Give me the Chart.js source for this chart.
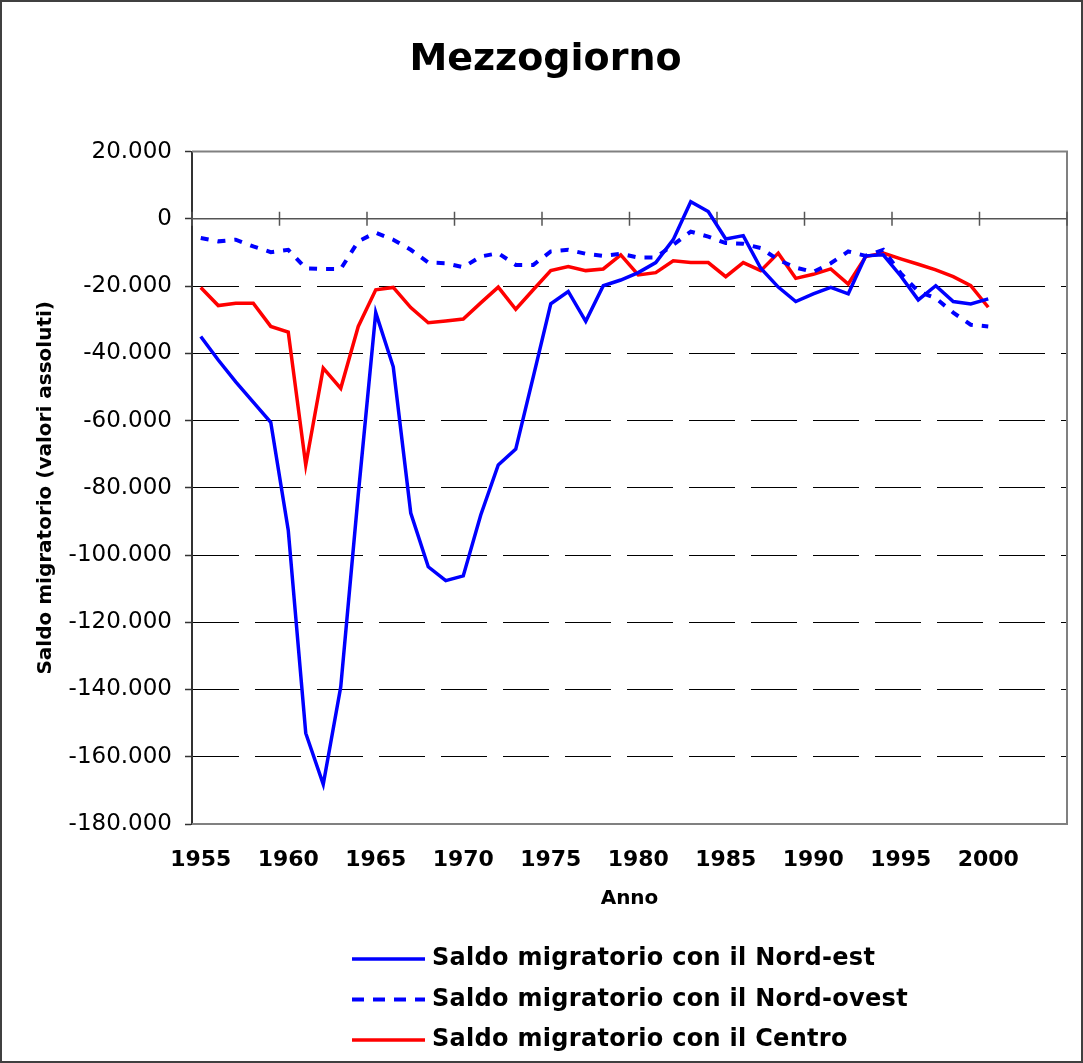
<!DOCTYPE html>
<html>
<head>
<meta charset="utf-8">
<title>Mezzogiorno</title>
<script src="https://cdn.jsdelivr.net/npm/chart.js@4/dist/chart.umd.min.js"></script>
<style>
    html, body { margin: 0; padding: 0; background: #fff; }
    canvas { display: block; }
</style>
</head>
<body>
<canvas id="saldoChart" width="1083" height="1063"></canvas>
<script>
// anni della serie (l'asse prosegue fino al 2004 senza dati)
var anni = [1955, 1956, 1957, 1958, 1959, 1960, 1961, 1962, 1963, 1964,
            1965, 1966, 1967, 1968, 1969, 1970, 1971, 1972, 1973, 1974,
            1975, 1976, 1977, 1978, 1979, 1980, 1981, 1982, 1983, 1984,
            1985, 1986, 1987, 1988, 1989, 1990, 1991, 1992, 1993, 1994,
            1995, 1996, 1997, 1998, 1999, 2000, 2001, 2002, 2003, 2004];
var anniEtichetta = [1955, 1960, 1965, 1970, 1975, 1980, 1985, 1990, 1995, 2000];

var saldoNordEst = [-35000, -42000, -48500, -54500, -60500, -92600, -153000, -168200, -139200, -82000,
                    -27900, -44000, -87500, -103500, -107600, -106200, -88100, -73200, -68500, -47000,
                    -25300, -21600, -30500, -19900, -18200, -16000, -13000, -6200, 5100, 2200,
                    -6000, -5000, -14700, -20300, -24600, -22300, -20400, -22300, -11000, -10700,
                    -17000, -24100, -19900, -24600, -25300, -23800];
var saldoNordOvest = [-5700, -6700, -6200, -8200, -9900, -9200, -14700, -14900, -14900, -6700,
                      -4100, -6200, -9200, -13000, -13200, -14400, -11200, -10200, -13700, -13700,
                      -9700, -9200, -10400, -11000, -10400, -11500, -11500, -7700, -3800, -5300,
                      -7200, -7400, -8700, -12200, -14500, -15800, -13200, -9700, -11000, -9200,
                      -16200, -21600, -23600, -27900, -31500, -32000];
var saldoCentro = [-20400, -25800, -25100, -25100, -32000, -33700, -73200, -44400, -50400, -32000,
                   -21100, -20400, -26400, -30900, -30400, -29800, -25000, -20300, -26900, -21100,
                   -15400, -14200, -15400, -14900, -10700, -16700, -16000, -12500, -13000, -13000,
                   -17200, -13000, -15400, -10200, -17700, -16500, -14900, -19400, -11200, -10200,
                   -11900, -13500, -15200, -17200, -19900, -26300];

var asseMin = -180000;
var asseMax = 20000;
var asseStep = 20000;

(function () {
    var FONT = "'DejaVu Sans', Verdana, sans-serif";

    function formatta(v) {
        var s = String(Math.abs(v)).replace(/\B(?=(\d{3})+(?!\d))/g, '.');
        return (v < 0 ? '-' : '') + s;
    }

    // bordo dell'area del grafico, linea dello zero con le tacche
    var cornice = {
        id: 'cornice',
        beforeDatasetsDraw: function (chart) {
            var ctx = chart.ctx, a = chart.chartArea;
            var x = chart.scales.x, y = chart.scales.y;
            ctx.save();
            ctx.strokeStyle = '#808080';
            ctx.lineWidth = 2;
            ctx.beginPath();
            ctx.moveTo(a.left, a.top);
            ctx.lineTo(a.right, a.top);
            ctx.lineTo(a.right, a.bottom);
            ctx.lineTo(a.left, a.bottom);
            ctx.stroke();

            var y0 = y.getPixelForValue(0);
            ctx.strokeStyle = '#555';
            ctx.beginPath();
            ctx.moveTo(a.left, y0);
            ctx.lineTo(a.right, y0);
            var w = x.width / anni.length;
            for (var k = 0; k <= anni.length; k += 5) {
                var px = a.left + k * w;
                ctx.moveTo(px, y0 - 7);
                ctx.lineTo(px, y0 + 7);
            }
            ctx.lineWidth = 1.5;
            ctx.stroke();
            ctx.restore();
        },
        afterDraw: function (chart) {
            var ctx = chart.ctx;
            ctx.save();
            // legenda
            var righe = [959, 999.5, 1040];
            chart.data.datasets.forEach(function (ds, i) {
                ctx.beginPath();
                ctx.strokeStyle = ds.borderColor;
                ctx.lineWidth = ds.borderWidth;
                ctx.setLineDash(ds.borderDash ? [12, 9] : []);
                ctx.moveTo(352, righe[i]);
                ctx.lineTo(425, righe[i]);
                ctx.stroke();
                ctx.setLineDash([]);
                ctx.fillStyle = '#000';
                ctx.font = 'bold 24px ' + FONT;
                ctx.letterSpacing = '0.3px';
                ctx.textBaseline = 'middle';
                ctx.fillText(ds.label, 432, righe[i]);
                ctx.letterSpacing = '0px';
            });
            // bordo esterno
            ctx.strokeStyle = '#404040';
            ctx.lineWidth = 2;
            ctx.strokeRect(1, 1, chart.width - 2, chart.height - 2);
            ctx.restore();
        }
    };

    var ctx = document.getElementById('saldoChart').getContext('2d');
    var saldoChart = new Chart(ctx, {
        type: 'line',
        data: {
            labels: anni,
            datasets: [
                {
                    label: 'Saldo migratorio con il Nord-est',
                    data: saldoNordEst,
                    borderColor: '#0000ff',
                    borderWidth: 3.5,
                    pointRadius: 0,
                    tension: 0,
                    fill: false
                },
                {
                    label: 'Saldo migratorio con il Nord-ovest',
                    data: saldoNordOvest,
                    borderColor: '#0000ff',
                    borderWidth: 4,
                    borderDash: [8, 9],
                    borderCapStyle: 'butt',
                    pointRadius: 0,
                    tension: 0,
                    fill: false
                },
                {
                    label: 'Saldo migratorio con il Centro',
                    data: saldoCentro,
                    borderColor: '#ff0000',
                    borderWidth: 3.5,
                    pointRadius: 0,
                    tension: 0,
                    fill: false
                }
            ]
        },
        options: {
            responsive: false,
            animation: false,
            events: [],
            layout: { padding: { left: 24, right: 16, top: 0, bottom: 144 } },
            plugins: {
                legend: { display: false },
                tooltip: { enabled: false },
                title: {
                    display: true,
                    text: 'Mezzogiorno',
                    color: '#000',
                    font: { family: FONT, size: 38, weight: 'bold' },
                    padding: { top: 37, bottom: 69 }
                }
            },
            scales: {
                x: {
                    type: 'category',
                    offset: true,
                    grid: { display: false, drawTicks: false },
                    border: { display: false },
                    ticks: {
                        autoSkip: false,
                        maxRotation: 0,
                        minRotation: 0,
                        color: '#000',
                        padding: 23,
                        font: { family: FONT, size: 22, weight: 'bold' },
                        callback: function (v, i) {
                            var a = anni[i];
                            return anniEtichetta.indexOf(a) >= 0 ? String(a) : '';
                        }
                    },
                    title: {
                        display: true,
                        text: 'Anno',
                        color: '#000',
                        font: { family: FONT, size: 20, weight: 'bold' },
                        padding: { top: 0, bottom: 8 }
                    },
                    afterFit: function (s) { s.height = 95; }
                },
                y: {
                    min: asseMin,
                    max: asseMax,
                    ticks: {
                        stepSize: asseStep,
                        color: '#000',
                        padding: 13,
                        font: { family: FONT, size: 23 },
                        callback: function (v) { return formatta(v); }
                    },
                    grid: {
                        color: function (c) {
                            var v = c.tick ? c.tick.value : null;
                            return (v === 0 || v === asseMax || v === asseMin) ? 'rgba(0,0,0,0)' : '#000';
                        },
                        lineWidth: 1,
                        tickLength: 7,
                        tickColor: '#333',
                        tickWidth: 1.5,
                        tickBorderDash: []
                    },
                    border: { display: true, color: '#333', width: 2, dash: [46, 16] },
                    title: {
                        display: true,
                        text: 'Saldo migratorio (valori assoluti)',
                        color: '#000',
                        font: { family: FONT, size: 20, weight: 'bold' },
                        padding: { top: 10, bottom: 0 }
                    },
                    afterFit: function (s) { s.width = 168; }
                }
            }
        },
        plugins: [cornice]
    });
})();
</script>
</body>
</html>
